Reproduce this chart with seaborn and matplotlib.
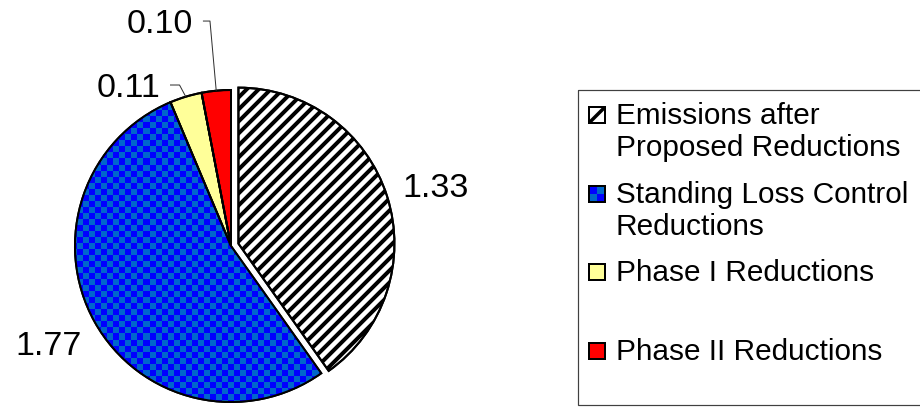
import numpy as np
import matplotlib
matplotlib.use("Agg")
import matplotlib.pyplot as plt
import seaborn as sns
from matplotlib.patches import Rectangle, Wedge
from matplotlib.colors import to_rgb

# Data
categories = ["Emissions after\nProposed Reductions",
              "Standing Loss Control\nReductions",
              "Phase I Reductions",
              "Phase II Reductions"]
values = [1.33, 1.77, 0.11, 0.10]
value_labels = ["1.33", "1.77", "0.11", "0.10"]
colors = ["#FFFFFF", "#0000FF", "#FFFF99", "#FF0000"]
hatches = ["//", "", "", ""]
explode = [0.05, 0, 0, 0]
checker_colors = ["#0000FF", "#0066CC"]

sns.set_theme(style="white")
plt.rcParams["font.family"] = ["Liberation Sans", "DejaVu Sans"]
plt.rcParams["hatch.linewidth"] = 4.0

DPI = 72
W, H = 920, 408
fig = plt.figure(figsize=(W / DPI, H / DPI), dpi=DPI)
fig.patch.set_facecolor("white")

# pie axes: radius R px, centre (cx, cy) px from top-left
R = 156
cx, cy = 231, 246
K = 1.5
ax = fig.add_axes([(cx - K * R) / W, (H - cy - K * R) / H, 2 * K * R / W, 2 * K * R / H])

wedges, _ = ax.pie(values, explode=explode, colors=colors, hatch=hatches,
                   startangle=90, counterclock=False,
                   wedgeprops=dict(edgecolor="black", linewidth=2))

# checkered fill for the standing-loss wedge
n = 57
ii, jj = np.indices((n, n))
c1, c2 = np.array(to_rgb(checker_colors[0])), np.array(to_rgb(checker_colors[1]))
img = np.where(((ii + jj) % 2)[..., None] == 0, c1, c2)
im = ax.imshow(img, extent=(-1.1, 1.1, -1.1, 1.1), interpolation="nearest", zorder=1.5)
im.set_clip_path(wedges[1])

# outlines on top of the texture
for w in wedges:
    ax.add_patch(Wedge(w.center, w.r, w.theta1, w.theta2, facecolor="none",
                       edgecolor="black", linewidth=2, zorder=3))

ax.set_xlim(-K, K)
ax.set_ylim(-K, K)
ax.set_aspect("auto")
ax.axis("off")

# value labels: (x, baseline y, ha, leader)
label_pos = [(1.096, 0.314, "left", False),
             (-0.955, -0.699, "right", False),
             (-0.455, 0.955, "right", True),
             (-0.244, 1.365, "right", True)]
fs_val = 34
for w, txt, (lx, ly, ha, leader) in zip(wedges, value_labels, label_pos):
    ax.text(lx, ly, txt, ha=ha, va="baseline", fontsize=fs_val, color="black", zorder=4)
    if leader:
        mid = np.deg2rad((w.theta1 + w.theta2) / 2)
        ex, ey = w.center[0] + np.cos(mid), w.center[1] + np.sin(mid)
        yline = ly + 0.077
        ax.plot([lx + 0.064, ex - 0.04, ex], [yline, yline, ey],
                color="#303030", linewidth=1, zorder=4, solid_capstyle="butt")

# legend drawn on a pixel-space overlay
lax = fig.add_axes([0, 0, 1, 1])
lax.set_autoscale_on(False)
lax.set_xlim(0, W)
lax.set_ylim(H, 0)
lax.axis("off")
lax.add_patch(Rectangle((578, 90), 360, 315, facecolor="none", edgecolor="#404040", linewidth=1.2))

fs_leg = 29.8
base0, step, line_gap = 124, 78.6, 32.5
msz = 16
for i, (cat, col) in enumerate(zip(categories, colors)):
    b = base0 + i * step
    mx, my = 589, b - msz - 1
    if i == 1:
        cimg = np.array([[c1, c2], [c2, c1]])
        lax.imshow(cimg, extent=(mx, mx + msz, my + msz, my), interpolation="nearest", zorder=2)
        lax.add_patch(Rectangle((mx, my), msz, msz, facecolor="none", edgecolor="black",
                                linewidth=2, zorder=3))
    else:
        sq = Rectangle((mx, my), msz, msz, facecolor=col, edgecolor="black",
                       linewidth=2, zorder=3)
        lax.add_patch(sq)
        if hatches[i]:
            diag, = lax.plot([mx, mx + msz], [my + msz, my], color="black",
                             linewidth=3.5, zorder=3, solid_capstyle="butt")
            diag.set_clip_path(sq)
    for k, line in enumerate(cat.split("\n")):
        lax.text(616, b + k * line_gap, line, ha="left", va="baseline",
                 fontsize=fs_leg, color="black")
lax.set_xlim(0, W)
lax.set_ylim(H, 0)
lax.set_aspect("auto")

fig.savefig("out.png", dpi=DPI, facecolor="white")
